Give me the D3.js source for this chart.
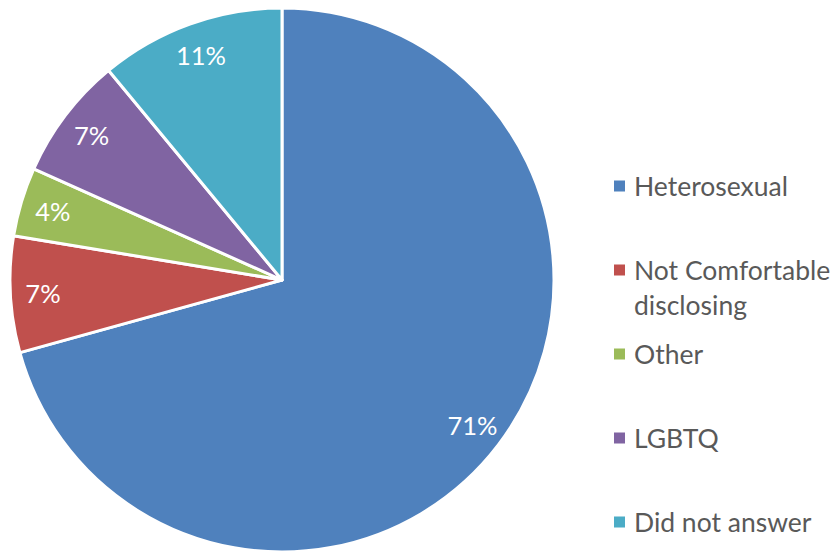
<!DOCTYPE html>
<html>
<head>
<meta charset="utf-8">
<script src="https://cdn.jsdelivr.net/npm/d3@7"></script>
<style>
  html, body { margin: 0; padding: 0; background: #ffffff; }
  svg { display: block; font-family: Lato, "Open Sans", sans-serif; }
</style>
</head>
<body>
<svg id="chart"></svg>
<script>
// ───────────────── DATA ─────────────────
const categories = ["Heterosexual", "Not Comfortable disclosing", "Other", "LGBTQ", "Did not answer"];
const shares = [70.7, 6.9, 4.1, 7.3, 11.0];
const legendLines = [["Heterosexual"], ["Not Comfortable", "disclosing"], ["Other"], ["LGBTQ"], ["Did not answer"]];

// ───────────────── COLOR ─────────────────
const COLOR_HEX = ["#4f81bd", "#c0504d", "#9bbb59", "#8064a2", "#4bacc6"];

// ───────────────── SIZE ─────────────────
const W = 839;
const H = 553;
const cx = 282;
const cy = 280;
const R = 272;

const svg = d3.select("#chart")
  .attr("width", W)
  .attr("height", H)
  .attr("viewBox", `0 0 ${W} ${H}`);

const rows = categories.map((c, i) => ({ name: c, value: shares[i], i }));

// ───────────────── PIE ─────────────────
const pie = d3.pie()
  .value(d => d.value)
  .sort(null);

const arc = d3.arc()
  .innerRadius(0)
  .outerRadius(R);

const labelArc = d3.arc()
  .innerRadius(R * 0.88)
  .outerRadius(R * 0.88);

const g = svg.append("g")
  .attr("transform", `translate(${cx},${cy})`);

const arcs = pie(rows);

g.selectAll("path.slice")
  .data(arcs)
  .join("path")
  .attr("class", "slice")
  .attr("d", arc)
  .attr("fill", d => COLOR_HEX[d.data.i])
  .attr("stroke", "#ffffff")
  .attr("stroke-width", 3)
  .attr("stroke-linejoin", "round");

g.selectAll("text.pct")
  .data(arcs)
  .join("text")
  .attr("class", "pct")
  .attr("transform", d => `translate(${labelArc.centroid(d)})`)
  .attr("text-anchor", "middle")
  .attr("dominant-baseline", "central")
  .attr("fill", "#ffffff")
  .style("font-size", "25.5px")
  .text(d => Math.round(d.data.value) + "%");

// ───────────────── LEGEND ─────────────────
const legendY = [186, 270, 354, 438, 522];
const legend = svg.append("g");

const item = legend.selectAll("g.item")
  .data(rows)
  .join("g")
  .attr("class", "item")
  .attr("transform", d => `translate(614,${legendY[d.i]})`);

item.append("rect")
  .attr("x", 0)
  .attr("y", -5.5)
  .attr("width", 11)
  .attr("height", 11)
  .attr("fill", d => COLOR_HEX[d.i]);

item.append("text")
  .attr("fill", "#595959")
  .style("font-size", "26.5px")
  .selectAll("tspan")
  .data(d => legendLines[d.i])
  .join("tspan")
  .attr("x", 20)
  .attr("y", (t, k) => k * 35)
  .attr("dominant-baseline", "central")
  .text(t => t);
</script>
</body>
</html>
